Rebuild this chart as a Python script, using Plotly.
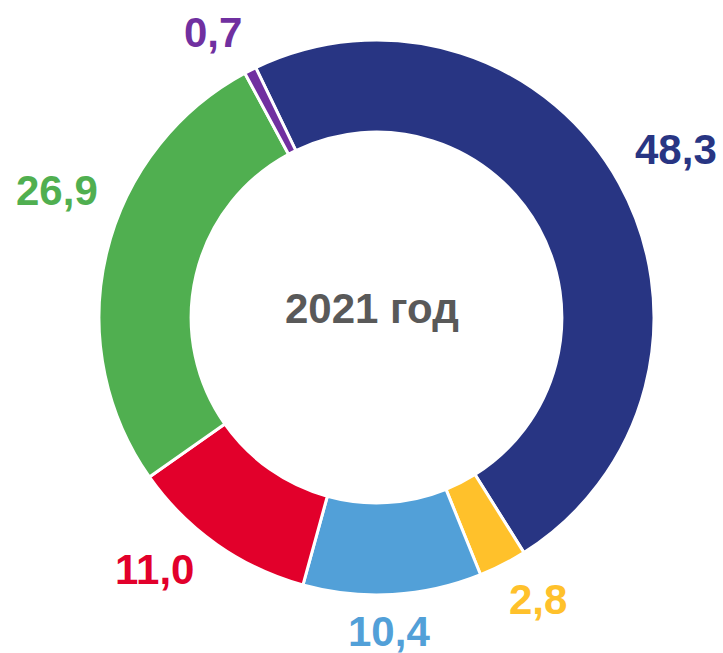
import math
import plotly.graph_objects as go

# Data (clockwise from the top-right dark blue slice)
categories = ["Категория 1", "Категория 2", "Категория 3", "Категория 4", "Категория 5", "Категория 6"]
values = [48.3, 2.8, 10.4, 11.0, 26.9, 0.7]
value_labels = ["48,3", "2,8", "10,4", "11,0", "26,9", "0,7"]
colors = ["#283583", "#FFC12B", "#52A0D8", "#E2002B", "#50AF50", "#7030A0"]
center_title = "2021 год"

# Layout / style settings
W, H = 723, 653
M = dict(l=99, r=69, t=40, b=58)
ROTATION = -25.8                       # start angle of first slice, deg clockwise from 12 o'clock
LABEL_FONT = 42
LABEL_GAP = 1.078                      # label inner edge, in units of outer radius
label_nudge_deg = [0, -2.5, 1, 6, 8, -3]   # small angular shifts of labels (style)
FONT = "Liberation Sans, Arial"

fig = go.Figure(
    go.Pie(
        labels=categories,
        values=values,
        textinfo="none",
        sort=False,
        direction="clockwise",
        rotation=360 + ROTATION,
        hole=0.668,
        marker=dict(colors=colors, line=dict(color="white", width=3)),
        showlegend=False,
        hoverinfo="skip",
    )
)

# Outside value labels placed at each slice's mid-angle (derived from the values)
plot_w = W - M["l"] - M["r"]
plot_h = H - M["t"] - M["b"]
side = min(plot_w, plot_h)
R = 0.5  # outer radius in paper units of the square plot area
total = sum(values)
cum = 0.0
for val, txt, col, nudge in zip(values, value_labels, colors, label_nudge_deg):
    mid = ROTATION + (cum + val / 2) / total * 360 + nudge
    cum += val
    a = math.radians(mid)
    sx, cy = math.sin(a), math.cos(a)
    n_dig = sum(ch.isdigit() for ch in txt)
    hw = 0.5 * LABEL_FONT * (0.556 * n_dig + 0.278) / side
    hh = 0.5 * LABEL_FONT * 0.72 / side
    d = R * LABEL_GAP + hw * abs(sx) + hh * abs(cy)
    fig.add_annotation(
        x=0.5 + d * sx * side / plot_w,
        y=0.5 + d * cy * side / plot_h,
        xref="paper", yref="paper",
        text=txt, showarrow=False,
        xanchor="center", yanchor="middle", yshift=2,
        font=dict(family=FONT, size=LABEL_FONT, color=col, weight="bold"),
    )

fig.add_annotation(
    x=0.5 - 4.5 / plot_w, y=0.5 + 9 / plot_h, xref="paper", yref="paper",
    text=center_title, showarrow=False,
    xanchor="center", yanchor="middle",
    font=dict(family=FONT, size=42, color="#595959", weight="bold"),
)

fig.update_layout(
    width=W, height=H,
    margin=M,
    paper_bgcolor="white", plot_bgcolor="white",
)

fig.write_html(
    "out.html",
    config={"displayModeBar": False},
    post_script="document.body.style.margin='0px';",
)
